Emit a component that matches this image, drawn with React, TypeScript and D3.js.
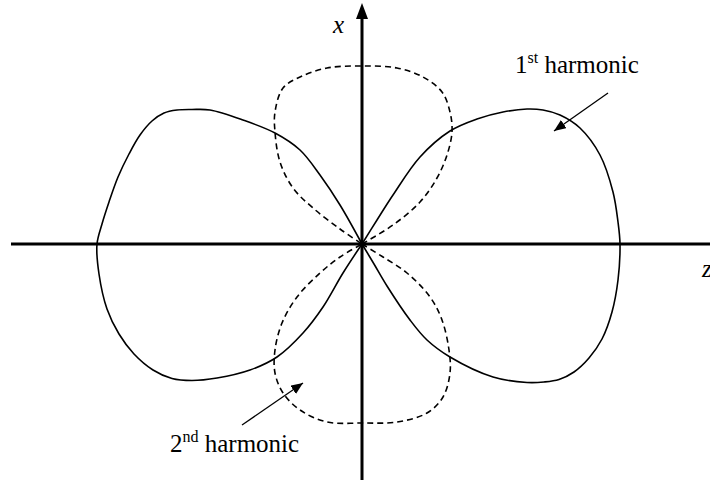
import React from "react";
import * as d3 from "d3";

// Field pattern outlines in the (z, x) plane, one unit = 100 px.
// First harmonic: two solid lobes along z.
const firstHarmonicRight: [number, number][] = [
  [0, 0], [0.15, 0.24], [0.31, 0.49], [0.58, 0.87], [0.88, 1.13], [1.15, 1.25],
  [1.41, 1.32], [1.65, 1.35], [1.81, 1.34], [1.98, 1.29], [2.18, 1.16],
  [2.38, 0.89], [2.51, 0.52], [2.56, 0.22], [2.58, 0], [2.56, -0.36],
  [2.5, -0.68], [2.4, -0.95], [2.27, -1.14], [2.12, -1.28], [1.97, -1.355],
  [1.82, -1.38], [1.65, -1.385], [1.31, -1.33], [0.88, -1.13], [0.65, -0.96],
  [0.48, -0.76], [0.25, -0.42], [0.12, -0.2], [0, 0],
];
const firstHarmonicLeft: [number, number][] = [
  [0, 0], [-0.22, 0.39], [-0.42, 0.69], [-0.62, 0.94], [-0.87, 1.11],
  [-1.19, 1.24], [-1.52, 1.34], [-1.7, 1.345], [-1.85, 1.34], [-1.98, 1.31],
  [-2.1, 1.23], [-2.22, 1.09], [-2.33, 0.9], [-2.44, 0.67], [-2.53, 0.42],
  [-2.6, 0.2], [-2.65, 0], [-2.63, -0.3], [-2.55, -0.65], [-2.43, -0.9],
  [-2.28, -1.1], [-2.09, -1.26], [-1.9, -1.345], [-1.7, -1.365],
  [-1.45, -1.34], [-1.12, -1.26], [-0.85, -1.13], [-0.59, -0.89],
  [-0.39, -0.63], [-0.19, -0.29], [0, 0],
];
// Second harmonic: two dashed lobes along x.
const secondHarmonicUpper: [number, number][] = [
  [0, 0], [0.31, 0.19], [0.58, 0.42], [0.75, 0.66], [0.85, 0.89], [0.9, 1.12],
  [0.88, 1.32], [0.8, 1.52], [0.61, 1.67], [0.35, 1.76], [0, 1.78],
  [-0.35, 1.76], [-0.62, 1.67], [-0.79, 1.56], [-0.87, 1.32], [-0.87, 1.12],
  [-0.82, 0.82], [-0.69, 0.56], [-0.49, 0.36], [-0.22, 0.15], [0, 0],
];
const secondHarmonicLower: [number, number][] = [
  [0, 0], [0.21, -0.13], [0.45, -0.29], [0.68, -0.53], [0.8, -0.76],
  [0.87, -1.06], [0.88, -1.29], [0.81, -1.53], [0.65, -1.69], [0.35, -1.78],
  [0, -1.79], [-0.35, -1.78], [-0.62, -1.66], [-0.79, -1.49], [-0.87, -1.29],
  [-0.87, -1.06], [-0.8, -0.79], [-0.65, -0.53], [-0.42, -0.29],
  [-0.22, -0.13], [0, 0],
];

// Annotation arrows: [start, tip]
const firstArrow: [number, number][] = [[2.46, 1.51], [1.92, 1.13]];
const secondArrow: [number, number][] = [[-1.2, -1.81], [-0.59, -1.39]];

const W = 710;
const H = 480;
const OX = 362;
const OY = 244;

const zScale = d3.scaleLinear().domain([-1, 1]).range([OX - 100, OX + 100]);
const xScale = d3.scaleLinear().domain([-1, 1]).range([OY + 100, OY - 100]);

const lobe = d3
  .line<[number, number]>()
  .x((d) => zScale(d[0]))
  .y((d) => xScale(d[1]))
  .curve(d3.curveCatmullRom.alpha(0.5));

const serif = "Liberation Serif";

export default function App() {
  return (
    <svg
      width={W}
      height={H}
      style={{ position: "absolute", left: 0, top: 0, background: "#fff" }}
    >
      <defs>
        <marker
          id="tip"
          viewBox="0 0 12 10"
          refX="12"
          refY="5"
          markerWidth="12"
          markerHeight="10"
          markerUnits="userSpaceOnUse"
          orient="auto"
        >
          <path d="M0,0 L12,5 L0,10 Z" fill="#000" />
        </marker>
      </defs>
      <rect width={W} height={H} fill="#fff" />

      {/* axes */}
      <line x1={11} y1={OY} x2={W} y2={OY} stroke="#000" strokeWidth={3} />
      <line x1={OX} y1={16} x2={OX} y2={H} stroke="#000" strokeWidth={3} />
      <path d={`M${OX},3 L${OX + 6},19 L${OX - 6},19 Z`} fill="#000" />

      <text x={333} y={33} fontFamily={serif} fontStyle="italic" fontSize={25}>
        x
      </text>
      <text x={702} y={277} fontFamily={serif} fontStyle="italic" fontSize={25}>
        z
      </text>

      {/* second harmonic */}
      {[secondHarmonicUpper, secondHarmonicLower].map((d, i) => (
        <path
          key={"s" + i}
          d={lobe(d) || ""}
          fill="none"
          stroke="#000"
          strokeWidth={1.6}
          strokeDasharray="6,4"
        />
      ))}

      {/* first harmonic */}
      {[firstHarmonicRight, firstHarmonicLeft].map((d, i) => (
        <path
          key={"f" + i}
          d={lobe(d) || ""}
          fill="none"
          stroke="#000"
          strokeWidth={1.6}
        />
      ))}

      {/* annotations */}
      {[firstArrow, secondArrow].map((a, i) => (
        <line
          key={"a" + i}
          x1={zScale(a[0][0])}
          y1={xScale(a[0][1])}
          x2={zScale(a[1][0])}
          y2={xScale(a[1][1])}
          stroke="#000"
          strokeWidth={1.3}
          markerEnd="url(#tip)"
        />
      ))}

      <text x={515} y={73} fontFamily={serif} fontSize={25}>
        1
        <tspan fontSize={16} dy={-10}>
          st
        </tspan>
        <tspan dy={10}> harmonic</tspan>
      </text>
      <text x={170} y={452} fontFamily={serif} fontSize={25}>
        2
        <tspan fontSize={16} dy={-10}>
          nd
        </tspan>
        <tspan dy={10}> harmonic</tspan>
      </text>
    </svg>
  );
}
